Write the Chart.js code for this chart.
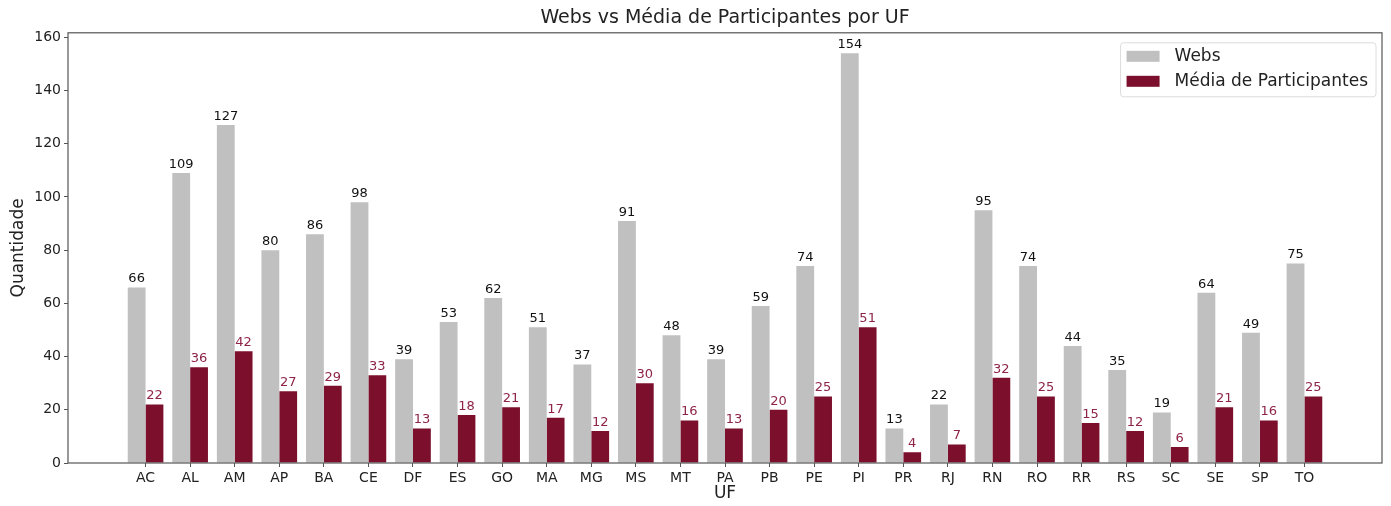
<!DOCTYPE html>
<html>
<head>
<meta charset="utf-8">
<script src="https://cdn.jsdelivr.net/npm/chart.js@4.4.0/dist/chart.umd.min.js"></script>
<style>
  html, body { margin: 0; padding: 0; background: #fff; }
</style>
</head>
<body>
<canvas id="chart" width="1391" height="506"></canvas>
<script>
// dados
const ufs = ["AC", "AL", "AM", "AP", "BA", "CE", "DF", "ES", "GO", "MA", "MG", "MS", "MT", "PA",
  "PB", "PE", "PI", "PR", "RJ", "RN", "RO", "RR", "RS", "SC", "SE", "SP", "TO"];
const webs = [66, 109, 127, 80, 86, 98, 39, 53, 62, 51, 37, 91, 48, 39,
  59, 74, 154, 13, 22, 95, 74, 44, 35, 19, 64, 49, 75];
const mediaParticipantes = [22, 36, 42, 27, 29, 33, 13, 18, 21, 17, 12, 30, 16, 13,
  20, 25, 51, 4, 7, 32, 25, 15, 12, 6, 21, 16, 25];
const yTicks = [0, 20, 40, 60, 80, 100, 120, 140, 160];

const cinza = "#c0c0c0";
const vinho = "#7b0f2c";
const fonte = "'DejaVu Sans', sans-serif";

// rótulos de valor em cima das barras
const valueLabels = {
  id: "valueLabels",
  afterDatasetsDraw(chart) {
    const ctx = chart.ctx;
    ctx.save();
    ctx.font = "13px " + fonte;
    ctx.textAlign = "center";
    ctx.textBaseline = "bottom";
    chart.data.datasets.forEach((ds, i) => {
      const meta = chart.getDatasetMeta(i);
      ctx.fillStyle = ds.labelColor;
      meta.data.forEach((bar, j) => {
        ctx.fillText(String(ds.data[j].y), bar.x, bar.y - 2);
      });
    });
    ctx.restore();
  },
};

// moldura em volta da área do gráfico
const frame = {
  id: "frame",
  afterDraw(chart) {
    const { left, top, right, bottom } = chart.chartArea;
    const ctx = chart.ctx;
    ctx.save();
    ctx.strokeStyle = "#555";
    ctx.lineWidth = 1.2;
    ctx.strokeRect(left, top, right - left, bottom - top);
    ctx.restore();
  },
};

// legenda dentro da área (canto superior direito)
const innerLegend = {
  id: "innerLegend",
  afterDraw(chart) {
    const ctx = chart.ctx;
    const area = chart.chartArea;
    ctx.save();
    ctx.font = "17px " + fonte;
    const labels = chart.data.datasets.map((d) => d.label);
    const textW = Math.max(...labels.map((t) => ctx.measureText(t).width));
    const boxW = 54 + textW + 8;
    const boxH = 54;
    const x0 = area.right - 6 - boxW;
    const y0 = area.top + 10;
    ctx.fillStyle = "rgba(255,255,255,0.85)";
    ctx.strokeStyle = "#dcdcdc";
    ctx.lineWidth = 1;
    ctx.beginPath();
    ctx.roundRect(x0, y0, boxW, boxH, 3);
    ctx.fill();
    ctx.stroke();
    ctx.textBaseline = "middle";
    chart.data.datasets.forEach((ds, i) => {
      const cy = y0 + 13.5 + i * 25;
      ctx.fillStyle = ds.backgroundColor;
      ctx.fillRect(x0 + 6, cy - 5.5, 33, 11);
      ctx.fillStyle = "#222";
      ctx.fillText(ds.label, x0 + 54, cy);
    });
    ctx.restore();
  },
};

const ctx = document.getElementById("chart").getContext("2d");
new Chart(ctx, {
  type: "bar",
  data: {
    datasets: [
      {
        label: "Webs",
        data: ufs.map((_, i) => ({ x: i, y: webs[i] })),
        backgroundColor: cinza,
        labelColor: "#111",
      },
      {
        label: "Média de Participantes",
        data: ufs.map((_, i) => ({ x: i, y: mediaParticipantes[i] })),
        backgroundColor: vinho,
        labelColor: "#8e2448",
      },
    ],
  },
  options: {
    responsive: false,
    animation: false,
    datasets: {
      bar: { barPercentage: 1, categoryPercentage: 0.8 },
    },
    layout: { padding: { left: 0, right: 9, top: 0, bottom: 0 } },
    scales: {
      x: {
        type: "linear",
        offset: false,
        min: -1.74,
        max: 27.74,
        afterBuildTicks: (scale) => {
          scale.ticks = ufs.map((_, i) => ({ value: i }));
        },
        afterFit: (scale) => {
          scale.height = 43;
        },
        ticks: {
          color: "#222",
          font: { family: fonte, size: 14 },
          padding: 3,
          maxRotation: 0,
          autoSkip: false,
          callback: (v) => ufs[v],
        },
        grid: { display: true, offset: false, drawOnChartArea: false, drawTicks: true, tickLength: 4, color: "#555" },
        border: { display: false },
        title: {
          display: true,
          text: "UF",
          color: "#222",
          font: { family: fonte, size: 17 },
          padding: { top: 0, bottom: 2 },
        },
      },
      y: {
        min: 0,
        max: 161.7,
        afterBuildTicks: (scale) => {
          scale.ticks = yTicks.map((v) => ({ value: v }));
        },
        afterFit: (scale) => {
          scale.width = 68;
        },
        ticks: {
          color: "#222",
          font: { family: fonte, size: 14 },
          padding: 3,
        },
        grid: { display: true, drawOnChartArea: false, drawTicks: true, tickLength: 4, color: "#555" },
        border: { display: false },
        title: {
          display: true,
          text: "Quantidade",
          color: "#222",
          font: { family: fonte, size: 17 },
          padding: { top: 8, bottom: 0 },
        },
      },
    },
    plugins: {
      legend: { display: false },
      tooltip: { enabled: false },
      title: {
        display: true,
        fullSize: false,
        text: "Webs vs Média de Participantes por UF",
        color: "#222",
        font: { family: fonte, size: 19, weight: "normal" },
        padding: { top: 7, bottom: 3 },
      },
    },
  },
  plugins: [valueLabels, frame, innerLegend],
});
</script>
</body>
</html>
